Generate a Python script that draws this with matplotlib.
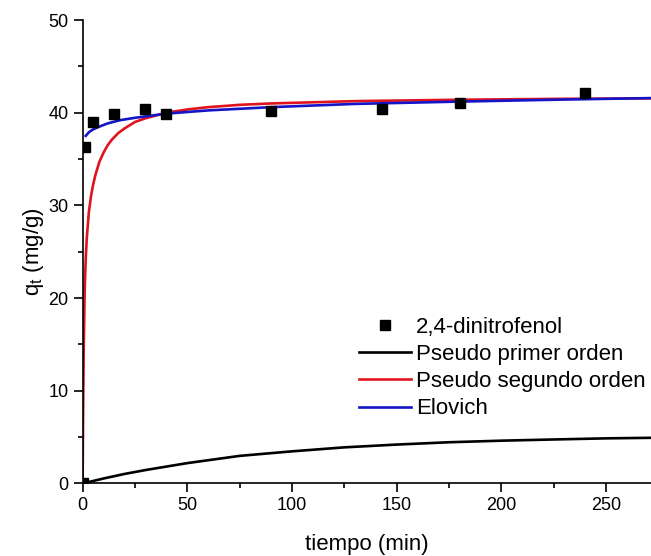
import matplotlib
matplotlib.use("Agg")
import matplotlib.pyplot as plt
from matplotlib.ticker import MultipleLocator

plt.rcParams['font.family'] = ['Liberation Sans', 'DejaVu Sans']

# experimental points
t_exp = [0, 1, 5, 15, 30, 40, 90, 143, 180, 240]
q_exp = [0, 36.3, 39.0, 39.9, 40.4, 39.9, 40.2, 40.4, 41.1, 42.1]

# pseudo primer orden
t_pfo = [0, 10, 20, 30, 50, 75, 100, 125, 150, 175, 200, 225, 250, 272]
q_pfo = [0, 0.54, 1.03, 1.45, 2.20, 2.98, 3.47, 3.90, 4.20, 4.45, 4.62, 4.75, 4.87, 4.93]

# pseudo segundo orden
t_pso = [0, 0.25, 0.5, 1, 1.5, 2, 3, 4, 5, 6, 8, 10, 12, 14, 17, 20, 25, 30, 40,
         50, 60, 75, 90, 130, 180, 230, 272]
q_pso = [0, 8, 14, 21, 24.3, 26.5, 29.3, 31.0, 32.2, 33.2, 34.7, 35.7, 36.5, 37.1,
         37.8, 38.3, 39.0, 39.4, 40.0, 40.35, 40.6, 40.85, 41.0, 41.25, 41.4, 41.5,
         41.55]

# Elovich
t_elo = [1.5, 3, 5, 8, 12, 18, 25, 40, 60, 90, 130, 180, 230, 272]
q_elo = [37.5, 37.9, 38.2, 38.5, 38.85, 39.2, 39.45, 39.9, 40.25, 40.6, 40.95,
         41.2, 41.42, 41.58]

fig = plt.figure(figsize=(6.51, 5.56), dpi=100)
ax = fig.add_axes([0.1269, 0.1304, 0.8731, 0.8336])

ax.plot(t_exp, q_exp, 's', color='black', markersize=7.5, label='2,4-dinitrofenol',
        zorder=5)
ax.plot(t_pfo, q_pfo, '-', color='black', lw=1.9, label='Pseudo primer orden')
ax.plot(t_pso, q_pso, '-', color='#e0141e', lw=1.9, label='Pseudo segundo orden')
ax.plot(t_elo, q_elo, '-', color='#1414c8', lw=1.9, label='Elovich')

ax.set_xlim(0, 271.4)
ax.set_ylim(0, 50)
ax.spines['top'].set_visible(False)
ax.spines['right'].set_visible(False)
for s in ('left', 'bottom'):
    ax.spines[s].set_linewidth(1.2)

ax.xaxis.set_major_locator(MultipleLocator(50))
ax.xaxis.set_minor_locator(MultipleLocator(25))
ax.yaxis.set_major_locator(MultipleLocator(10))
ax.yaxis.set_minor_locator(MultipleLocator(5))
ax.tick_params(which='major', direction='out', length=6.5, width=1.2, labelsize=13)
ax.tick_params(which='minor', direction='out', length=3.8, width=1.2)

ax.set_xlabel('tiempo (min)', fontsize=16, labelpad=14)
ax.set_ylabel(r'q$_\mathregular{t}$ (mg/g)', fontsize=16, labelpad=2)

ax.legend(loc='upper left', bbox_to_anchor=(0.487, 0.36), frameon=False,
          fontsize=16, handlelength=2.3, handletextpad=0.25, labelspacing=0.28,
          borderaxespad=0, borderpad=0)

fig.savefig('out.png', dpi=100)
